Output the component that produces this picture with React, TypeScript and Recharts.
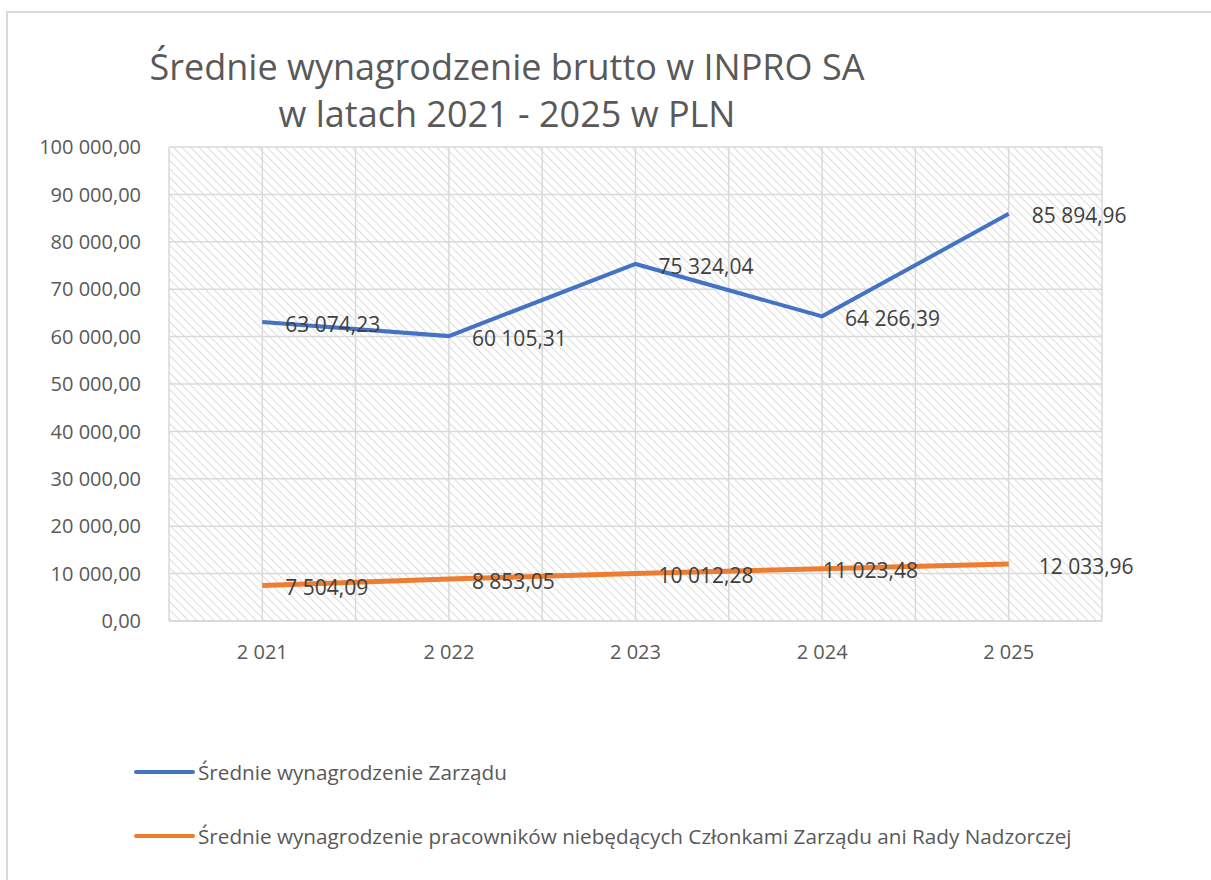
import { CartesianGrid, LabelList, Line, LineChart, XAxis, YAxis } from "recharts"

const years = [2021, 2022, 2023, 2024, 2025]
const boardPay = [63074.23, 60105.31, 75324.04, 64266.39, 85894.96]
const staffPay = [7504.09, 8853.05, 10012.28, 11023.48, 12033.96]
const yTicks = [0, 10000, 20000, 30000, 40000, 50000, 60000, 70000, 80000, 90000, 100000]

const seriesNames = [
  "Średnie wynagrodzenie Zarządu",
  "Średnie wynagrodzenie pracowników niebędących Członkami Zarządu ani Rady Nadzorczej",
]
const seriesColors = ["#4472C4", "#ED7D31"]

const data = years.map((y, i) => ({ year: y, board: boardPay[i], staff: staffPay[i] }))

const FONT = "'Open Sans', sans-serif"
const TEXT = "#595959"

// Polish style: "63 074,23"
function plNumber(v: number, digits: number) {
  const [int, dec] = v.toFixed(digits).split(".")
  const grouped = int.replace(/\B(?=(\d{3})+(?!\d))/g, " ")
  return dec ? grouped + "," + dec : grouped
}

function makeLabel(extraDx: Record<number, number>) {
  return (props: any) => {
    const { x, y, value, index } = props
    const dx = extraDx[index] ?? 23
    return (
      <text
        x={x + dx}
        y={y + 4}
        fill="#404040"
        fontSize={21}
        fontFamily={FONT}
        dominantBaseline="middle"
      >
        {plNumber(value, 2)}
      </text>
    )
  }
}

export default function App() {
  return (
    <div style={{ position: "absolute", left: 0, top: 0, width: 1211, height: 880, background: "#fff", overflow: "hidden" }}>
      <div style={{ position: "absolute", left: 6, top: 11, right: -10, bottom: -10, borderTop: "2px solid #d9d9d9", borderLeft: "2px solid #d9d9d9" }} />

      <svg width={0} height={0} style={{ position: "absolute" }}>
        <defs>
          <pattern id="hatch" width={6} height={6} patternUnits="userSpaceOnUse" patternTransform="rotate(-45)">
            <line x1={0} y1={0} x2={0} y2={6} stroke="#dcdcdc" strokeWidth={2} />
          </pattern>
        </defs>
      </svg>

      <div
        style={{
          position: "absolute",
          left: 0,
          top: 43,
          width: 1014,
          textAlign: "center",
          fontFamily: FONT,
          fontSize: 36,
          lineHeight: "47px",
          color: TEXT,
        }}
      >
        Średnie wynagrodzenie brutto w INPRO SA
        <br />
        w latach 2021 - 2025 w PLN
      </div>

      <div style={{ position: "absolute", left: 0, top: 0 }}>
        <LineChart width={1211} height={880} data={data} margin={{ top: 147, right: 109, bottom: 219, left: 0 }}>
          <CartesianGrid
            stroke="#d9d9d9"
            strokeWidth={1.5}
            fill="url(#hatch)"
            verticalCoordinatesGenerator={({ offset }: any) =>
              Array.from({ length: 11 }, (_, i) => offset.left + (i * offset.width) / 10)
            }
          />
          <XAxis
            dataKey="year"
            scale="band"
            tickFormatter={(v: number) => plNumber(v, 0)}
            tick={{ fill: TEXT, fontSize: 20, fontFamily: FONT }}
            tickLine={false}
            axisLine={{ stroke: "#d9d9d9", strokeWidth: 2 }}
            tickMargin={18}
            height={40}
          />
          <YAxis
            domain={[0, 100000]}
            ticks={yTicks}
            tickFormatter={(v: number) => plNumber(v, 2)}
            tick={{ fill: TEXT, fontSize: 20, fontFamily: FONT }}
            tickLine={false}
            axisLine={false}
            width={169}
            tickMargin={22}
          />
          <Line
            dataKey="board"
            name={seriesNames[0]}
            stroke={seriesColors[0]}
            strokeWidth={4}
            dot={false}
            isAnimationActive={false}
          >
            <LabelList dataKey="board" content={makeLabel({})} />
          </Line>
          <Line
            dataKey="staff"
            name={seriesNames[1]}
            stroke={seriesColors[1]}
            strokeWidth={5}
            dot={false}
            isAnimationActive={false}
          >
            <LabelList dataKey="staff" content={makeLabel({ 3: 1, 4: 30 })} />
          </Line>
        </LineChart>
      </div>

      {seriesNames.map((name, i) => (
        <div
          key={name}
          style={{
            position: "absolute",
            left: 134,
            top: 757 + i * 64,
            height: 30,
            display: "flex",
            alignItems: "center",
            fontFamily: FONT,
            fontSize: 20.7,
            color: TEXT,
            whiteSpace: "nowrap",
          }}
        >
          <span style={{ display: "inline-block", width: 61, height: 4, borderRadius: 2, background: seriesColors[i], marginRight: 3 }} />
          {name}
        </div>
      ))}
    </div>
  )
}
